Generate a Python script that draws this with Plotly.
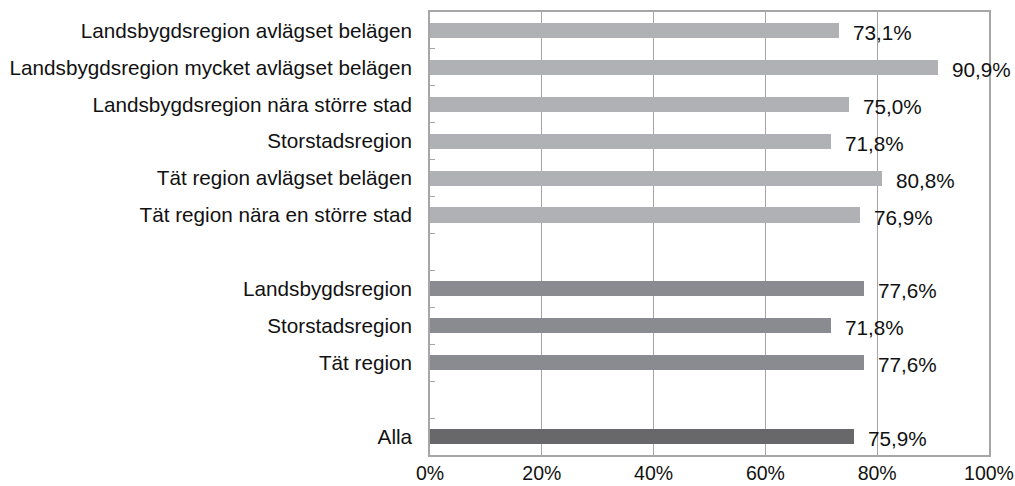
import plotly.graph_objects as go

categories = [
    "Landsbygdsregion avlägset belägen",
    "Landsbygdsregion mycket avlägset belägen",
    "Landsbygdsregion nära större stad",
    "Storstadsregion",
    "Tät region avlägset belägen",
    "Tät region nära en större stad",
    "",
    "Landsbygdsregion",
    "Storstadsregion",
    "Tät region",
    "",
    "Alla",
]
values = [73.1, 90.9, 75.0, 71.8, 80.8, 76.9, None, 77.6, 71.8, 77.6, None, 75.9]
groups = ["kommun"] * 6 + ["blank"] + ["region"] * 3 + ["blank"] + ["alla"]
group_colors = {"kommun": "#afb1b4", "region": "#8a8b91", "alla": "#68686b", "blank": "rgba(0,0,0,0)"}
x_ticks = [0, 20, 40, 60, 80, 100]
x_tick_labels = [f"{t}%" for t in x_ticks]

FONT = "Liberation Sans, Arial, sans-serif"
FS = 20.7

pos = list(range(len(categories)))
bounds = [p + 0.5 for p in pos[:-1]]

fig = go.Figure()
fig.add_trace(go.Bar(
    y=pos,
    x=[v if v is not None else 0 for v in values],
    orientation="h",
    marker=dict(color=[group_colors[g] for g in groups], line=dict(width=0)),
    width=0.41,
    hoverinfo="skip",
))

for p, v in zip(pos, values):
    if v is None:
        continue
    fig.add_annotation(
        x=v, y=p, xref="x", yref="y",
        text=f"{v:.1f}%".replace(".", ","),
        showarrow=False, xanchor="left", yanchor="middle",
        xshift=12, yshift=-2,
        font=dict(family=FONT, size=FS, color="#111111"),
    )

fig.update_layout(
    width=1015, height=486,
    margin=dict(l=430, r=26, t=12, b=31, autoexpand=False),
    paper_bgcolor="white", plot_bgcolor="white",
    showlegend=False,
    bargap=0,
    font=dict(family=FONT, size=FS, color="#111111"),
)
fig.update_xaxes(
    range=[0, 100],
    tickvals=x_ticks, ticktext=x_tick_labels,
    showgrid=True, gridcolor="#a6a6a6", gridwidth=1,
    showline=True, linecolor="#a6a6a6", linewidth=1.5, mirror=True,
    ticks="", zeroline=False,
    tickfont=dict(family=FONT, size=19.5, color="#111111"),
    ticklabeloverflow="allow",
    automargin=False,
    fixedrange=True,
)
fig.update_yaxes(
    range=[len(categories) - 0.5, -0.5],
    tickvals=pos, ticktext=categories,
    ticks="",
    minor=dict(tickvals=bounds, ticks="inside", ticklen=5, tickcolor="#a6a6a6", showgrid=False),
    showgrid=False, zeroline=False,
    showline=True, linecolor="#a6a6a6", linewidth=1.5, mirror=True,
    ticklabelstandoff=12,
    tickfont=dict(family=FONT, size=FS, color="#111111"),
    automargin=False,
    fixedrange=True,
)

fig.write_html(
    "out.html",
    config={"displayModeBar": False},
    post_script="document.body.style.margin='0px';document.body.style.overflow='hidden';",
)
